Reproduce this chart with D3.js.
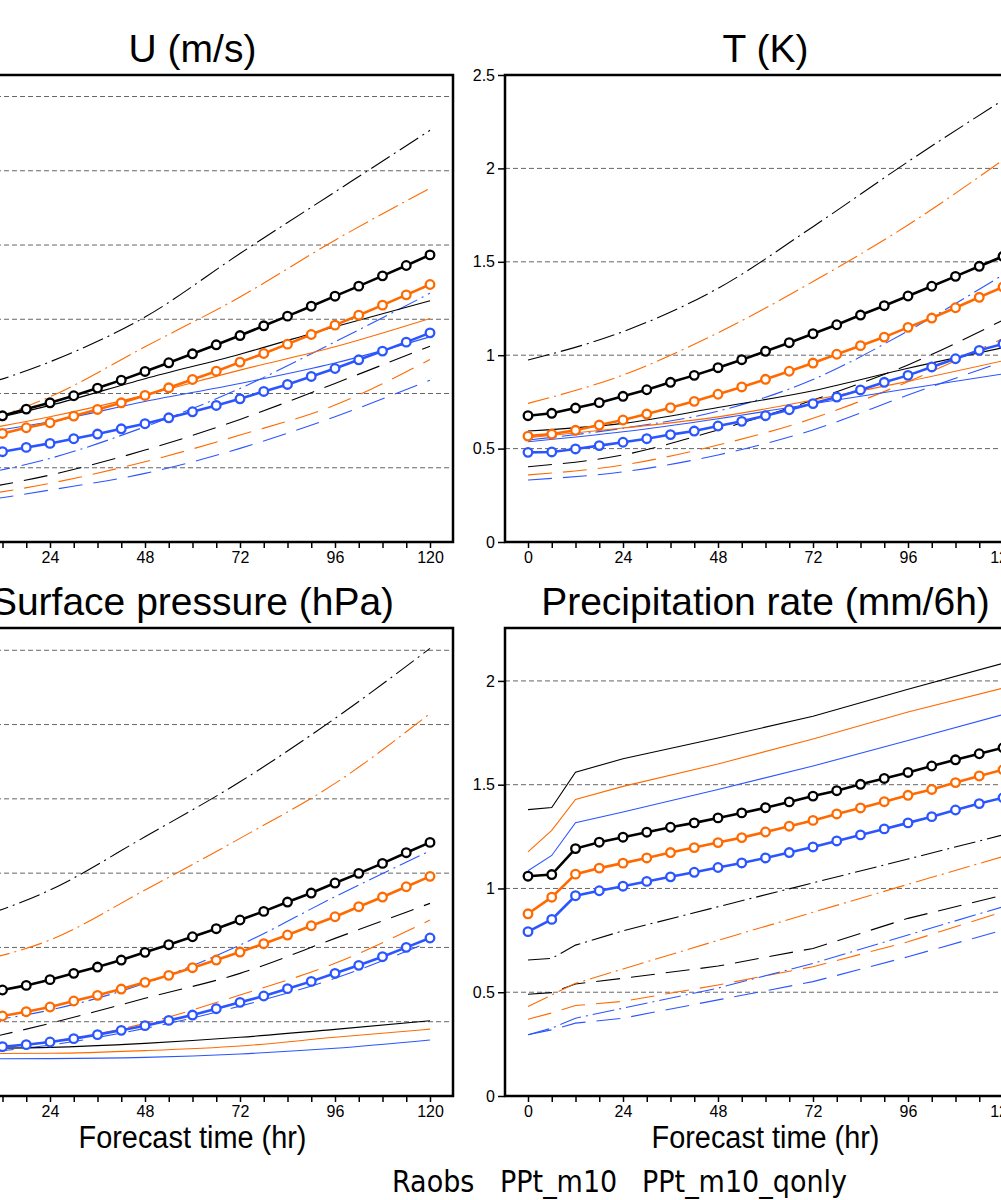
<!DOCTYPE html>
<html>
<head>
<meta charset="utf-8">
<script src="https://cdn.jsdelivr.net/npm/d3@7"></script>
<style>
  body { margin: 0; background: #fff; }
  svg { display: block; }
</style>
</head>
<body>
<div id="chart"></div>
<script>
// ---- data ----
const hours6 = [0, 6, 12, 18, 24, 30, 36, 42, 48, 54, 60, 66, 72, 78, 84, 90, 96, 102, 108, 114, 120];
const hoursThin = [0, 24, 48, 72, 96, 120];
const hoursPrecip = [0, 6, 12, 24, 48, 72, 96, 120];
const xLabelHours = [0, 24, 48, 72, 96, 120];

const legendNames = ["Raobs", "PPt_m10", "PPt_m10_qonly"];
const lineColors = ["#000000", "#ff6a00", "#2b55ff"];

// U (m/s)
const uTicks = [0, 1, 2, 3, 4, 5, 6];
const uCircBlack  = [1.55, 1.62, 1.700, 1.790, 1.875, 1.970, 2.073, 2.180, 2.297, 2.414, 2.535, 2.656, 2.781, 2.912, 3.042, 3.176, 3.311, 3.446, 3.585, 3.724, 3.867];
const uCircOrange = [1.32, 1.39, 1.462, 1.539, 1.606, 1.696, 1.785, 1.875, 1.974, 2.077, 2.189, 2.301, 2.423, 2.539, 2.665, 2.795, 2.921, 3.055, 3.190, 3.329, 3.468];
const uCircBlue   = [1.11, 1.16, 1.216, 1.274, 1.328, 1.391, 1.454, 1.525, 1.593, 1.673, 1.754, 1.839, 1.929, 2.028, 2.122, 2.230, 2.337, 2.454, 2.571, 2.692, 2.817];
const uSolidBlack   = [1.55, 1.84, 2.20, 2.53, 2.90, 3.248];
const uSolidOrange  = [1.45, 1.687, 1.978, 2.315, 2.629, 3.01];
const uSolidBlue    = [1.42, 1.62, 1.893, 2.135, 2.41, 2.763];
const uDashDotBlack  = [2.0, 2.427, 3.03, 3.885, 4.715, 5.545];
const uDashDotOrange = [1.5, 1.956, 2.629, 3.30, 4.065, 4.765];
const uDashDotBlue   = [0.85, 1.126, 1.552, 2.068, 2.696, 3.35];
const uDashBlack  = [0.66, 0.902, 1.238, 1.651, 2.136, 2.638];
const uDashOrange = [0.58, 0.79, 1.081, 1.44, 1.844, 2.459];
const uDashBlue   = [0.50, 0.70, 0.924, 1.261, 1.687, 2.18];

// T (K)
const tTicks = [0, 0.5, 1, 1.5, 2, 2.5];
const tCircBlack  = [0.676, 0.689, 0.717, 0.746, 0.780, 0.815, 0.855, 0.892, 0.933, 0.976, 1.021, 1.067, 1.115, 1.163, 1.215, 1.265, 1.317, 1.369, 1.422, 1.476, 1.529];
const tCircOrange = [0.567, 0.578, 0.598, 0.626, 0.653, 0.685, 0.719, 0.753, 0.791, 0.830, 0.871, 0.914, 0.958, 1.005, 1.051, 1.097, 1.149, 1.199, 1.254, 1.310, 1.365];
const tCircBlue   = [0.480, 0.482, 0.498, 0.516, 0.534, 0.553, 0.575, 0.594, 0.621, 0.646, 0.676, 0.708, 0.741, 0.776, 0.814, 0.855, 0.892, 0.937, 0.981, 1.026, 1.060];
const tSolidBlack  = [0.594, 0.635, 0.72, 0.81, 0.93, 1.04];
const tSolidOrange = [0.558, 0.61, 0.67, 0.76, 0.86, 0.97];
const tSolidBlue   = [0.537, 0.59, 0.66, 0.74, 0.82, 0.90];
const tDashDotBlack  = [0.974, 1.126, 1.358, 1.688, 2.036, 2.366];
const tDashDotOrange = [0.742, 0.894, 1.12, 1.394, 1.697, 2.045];
const tDashDotBlue   = [0.546, 0.609, 0.70, 0.87, 1.13, 1.43];
const tDashBlack  = [0.403, 0.466, 0.600, 0.760, 0.948, 1.188];
const tDashOrange = [0.359, 0.412, 0.519, 0.662, 0.858, 1.09];
const tDashBlue   = [0.332, 0.376, 0.466, 0.60, 0.787, 0.965];

// Surface pressure (hPa)
const spTicks = [0, 1, 2, 3, 4, 5, 6];
const spCircBlack  = [1.32, 1.37, 1.427, 1.489, 1.566, 1.651, 1.736, 1.830, 1.934, 2.037, 2.144, 2.252, 2.369, 2.485, 2.611, 2.732, 2.867, 2.997, 3.131, 3.275, 3.414];
const spCircOrange = [0.97, 1.02, 1.077, 1.135, 1.198, 1.279, 1.355, 1.440, 1.530, 1.624, 1.727, 1.830, 1.938, 2.050, 2.167, 2.292, 2.413, 2.548, 2.678, 2.817, 2.957];
const spCircBlue   = [0.62, 0.64, 0.664, 0.691, 0.727, 0.772, 0.826, 0.884, 0.947, 1.018, 1.090, 1.175, 1.261, 1.346, 1.445, 1.543, 1.651, 1.759, 1.875, 2.001, 2.127];
const spSolidBlack  = [0.64, 0.655, 0.709, 0.79, 0.897, 1.014];
const spSolidOrange = [0.57, 0.575, 0.611, 0.673, 0.79, 0.90];
const spSolidBlue   = [0.50, 0.503, 0.52, 0.566, 0.642, 0.754];
const spDashDotBlack  = [2.3, 2.773, 3.49, 4.23, 5.083, 6.025];
const spDashDotOrange = [1.75, 2.1, 2.773, 3.468, 4.208, 5.15];
const spDashDotBlue   = [0.95, 1.157, 1.516, 2.032, 2.683, 3.30];
const spDashBlack  = [0.68, 0.978, 1.315, 1.651, 2.122, 2.593];
const spDashOrange = [0.6, 0.731, 0.978, 1.36, 1.786, 2.369];
const spDashBlue   = [0.55, 0.686, 0.91, 1.21, 1.584, 2.077];

// Precipitation rate (mm/6h)
const prTicks = [0, 0.5, 1, 1.5, 2];
const prCircBlack  = [1.059, 1.067, 1.192, 1.223, 1.247, 1.271, 1.295, 1.316, 1.340, 1.364, 1.389, 1.417, 1.445, 1.471, 1.502, 1.530, 1.559, 1.590, 1.620, 1.649, 1.678];
const prCircOrange = [0.878, 0.958, 1.069, 1.098, 1.122, 1.147, 1.173, 1.197, 1.221, 1.245, 1.272, 1.300, 1.328, 1.359, 1.388, 1.418, 1.449, 1.477, 1.510, 1.542, 1.572];
const prCircBlue   = [0.792, 0.851, 0.965, 0.989, 1.011, 1.034, 1.056, 1.078, 1.101, 1.123, 1.147, 1.173, 1.200, 1.229, 1.258, 1.287, 1.316, 1.346, 1.378, 1.409, 1.437];
const prSolidBlack  = [1.38, 1.39, 1.56, 1.625, 1.725, 1.83, 1.96, 2.085];
const prSolidOrange = [1.176, 1.28, 1.429, 1.492, 1.60, 1.72, 1.85, 1.965];
const prSolidBlue   = [1.085, 1.159, 1.317, 1.368, 1.477, 1.59, 1.713, 1.838];
const prDashDotBlack  = [0.655, 0.663, 0.727, 0.796, 0.912, 1.027, 1.142, 1.258];
const prDashDotOrange = [0.431, 0.487, 0.543, 0.612, 0.75, 0.885, 1.02, 1.154];
const prDashDotBlue   = [0.295, 0.327, 0.375, 0.423, 0.52, 0.639, 0.776, 0.912];
const prDashBlack  = [0.490, 0.498, 0.540, 0.567, 0.626, 0.711, 0.856, 0.968];
const prDashOrange = [0.37, 0.40, 0.436, 0.456, 0.535, 0.623, 0.743, 0.888];
const prDashBlue   = [0.295, 0.319, 0.351, 0.375, 0.463, 0.551, 0.671, 0.80];

// ---- layout ----
const W = 1001, H = 1200;
const panelW = 521;
const xPad = 23; // gap between frame and 0h / 120h

const panels = [
  { title: "U (m/s)", left: -68, top: 75, bottom: 542, yMax: 6.29, ticks: uTicks, xTitle: false,
    thinHours: hoursThin, curve: d3.curveMonotoneX,
    circ: [uCircBlack, uCircOrange, uCircBlue],
    solid: [uSolidBlack, uSolidOrange, uSolidBlue],
    dashdot: [uDashDotBlack, uDashDotOrange, uDashDotBlue],
    dash: [uDashBlack, uDashOrange, uDashBlue] },
  { title: "T (K)", left: 505, top: 75, bottom: 542, yMax: 2.5, ticks: tTicks, xTitle: false,
    thinHours: hoursThin, curve: d3.curveMonotoneX,
    circ: [tCircBlack, tCircOrange, tCircBlue],
    solid: [tSolidBlack, tSolidOrange, tSolidBlue],
    dashdot: [tDashDotBlack, tDashDotOrange, tDashDotBlue],
    dash: [tDashBlack, tDashOrange, tDashBlue] },
  { title: "Surface pressure (hPa)", left: -68, top: 628, bottom: 1096, yMax: 6.3, ticks: spTicks, xTitle: true,
    thinHours: hoursThin, curve: d3.curveMonotoneX,
    circ: [spCircBlack, spCircOrange, spCircBlue],
    solid: [spSolidBlack, spSolidOrange, spSolidBlue],
    dashdot: [spDashDotBlack, spDashDotOrange, spDashDotBlue],
    dash: [spDashBlack, spDashOrange, spDashBlue] },
  { title: "Precipitation rate (mm/6h)", left: 505, top: 628, bottom: 1096, yMax: 2.255, ticks: prTicks, xTitle: true,
    thinHours: hoursPrecip, curve: d3.curveLinear,
    circ: [prCircBlack, prCircOrange, prCircBlue],
    solid: [prSolidBlack, prSolidOrange, prSolidBlue],
    dashdot: [prDashDotBlack, prDashDotOrange, prDashDotBlue],
    dash: [prDashBlack, prDashOrange, prDashBlue] }
];

const styles = {
  solid:   { width: 1.1, dash: null },
  dashdot: { width: 1.1, dash: "22,5,2,5" },
  dash:    { width: 1.1, dash: "24,11" }
};

const svg = d3.select("#chart")
  .append("svg")
    .attr("width", W)
    .attr("height", H);

svg.append("rect").attr("width", W).attr("height", H).attr("fill", "#fff");

panels.forEach(p => {
  const x0 = p.left, x1 = p.left + panelW;
  const pxPerHour = (panelW - 2 * xPad) / 120;
  const x = d3.scaleLinear()
    .domain([-xPad / pxPerHour, 120 + xPad / pxPerHour])
    .range([x0, x1]);
  const y = d3.scaleLinear()
    .domain([0, p.yMax])
    .range([p.bottom, p.top]);

  const g = svg.append("g");

  // title
  g.append("text")
    .attr("x", (x0 + x1) / 2)
    .attr("y", p.top - 13)
    .attr("text-anchor", "middle")
    .style("font-family", "'Liberation Sans', Arial, sans-serif")
    .style("font-size", "39px")
    .text(p.title);

  // grid lines
  g.selectAll(".grid")
    .data(p.ticks.filter(t => t > 0 && t < p.yMax))
    .join("line")
      .attr("class", "grid")
      .attr("x1", x0).attr("x2", x1)
      .attr("y1", d => y(d)).attr("y2", d => y(d))
      .attr("stroke", "#666")
      .attr("stroke-width", 1)
      .attr("stroke-dasharray", "5,3");

  // thin lines
  const thinLine = d3.line()
    .x((d, i) => x(p.thinHours[i]))
    .y(d => y(d))
    .curve(p.curve);

  ["dash", "dashdot", "solid"].forEach(kind => {
    p[kind].forEach((vals, ci) => {
      g.append("path")
        .attr("d", thinLine(vals))
        .attr("fill", "none")
        .attr("stroke", lineColors[ci])
        .attr("stroke-width", styles[kind].width)
        .attr("stroke-dasharray", styles[kind].dash);
    });
  });

  // thick lines with circle markers
  const circLine = d3.line()
    .x((d, i) => x(hours6[i]))
    .y(d => y(d));

  p.circ.forEach((vals, ci) => {
    g.append("path")
      .attr("d", circLine(vals))
      .attr("fill", "none")
      .attr("stroke", lineColors[ci])
      .attr("stroke-width", 2.6);
    g.selectAll(".mk" + ci)
      .data(vals)
      .join("circle")
        .attr("class", "mk" + ci)
        .attr("cx", (d, i) => x(hours6[i]))
        .attr("cy", d => y(d))
        .attr("r", 4.3)
        .attr("fill", "#fff")
        .attr("stroke", lineColors[ci])
        .attr("stroke-width", 2.3);
  });

  // x axis
  const xAxis = g.append("g")
    .attr("transform", `translate(0,${p.bottom})`)
    .call(d3.axisBottom(x)
      .tickValues(hours6)
      .tickSize(6)
      .tickPadding(4)
      .tickFormat(d => xLabelHours.includes(d) ? d : ""));
  xAxis.select(".domain").remove();
  xAxis.selectAll(".tick line").attr("stroke", "#000").attr("stroke-width", 1.5);
  xAxis.selectAll("text")
    .style("font-family", "'Liberation Sans', Arial, sans-serif")
    .style("font-size", "16px")
    .attr("fill", "#000");

  // y axis
  const yAxis = g.append("g")
    .attr("transform", `translate(${x0},0)`)
    .call(d3.axisLeft(y)
      .tickValues(p.ticks)
      .tickSize(7)
      .tickPadding(3)
      .tickFormat(d3.format("~g")));
  yAxis.select(".domain").remove();
  yAxis.selectAll(".tick line").attr("stroke", "#000").attr("stroke-width", 1.5);
  yAxis.selectAll("text")
    .style("font-family", "'Liberation Sans', Arial, sans-serif")
    .style("font-size", "16px")
    .attr("fill", "#000");

  // frame
  g.append("rect")
    .attr("x", x0).attr("y", p.top)
    .attr("width", panelW).attr("height", p.bottom - p.top)
    .attr("fill", "none")
    .attr("stroke", "#000")
    .attr("stroke-width", 2.5);

  if (p.xTitle) {
    g.append("text")
      .attr("x", x(60))
      .attr("y", p.bottom + 52)
      .attr("text-anchor", "middle")
      .attr("textLength", 228)
      .attr("lengthAdjust", "spacingAndGlyphs")
      .style("font-family", "'Liberation Sans', Arial, sans-serif")
      .style("font-size", "31px")
      .text("Forecast time (hr)");
  }
});

// legend text
const legendX = [392, 500, 642];
svg.selectAll(".legend")
  .data(legendNames)
  .join("text")
    .attr("class", "legend")
    .attr("x", (d, i) => legendX[i])
    .attr("y", 1192)
    .style("font-family", "'DejaVu Sans Condensed', 'DejaVu Sans', sans-serif")
    .style("font-size", "30px")
    .text(d => d);
</script>
</body>
</html>
